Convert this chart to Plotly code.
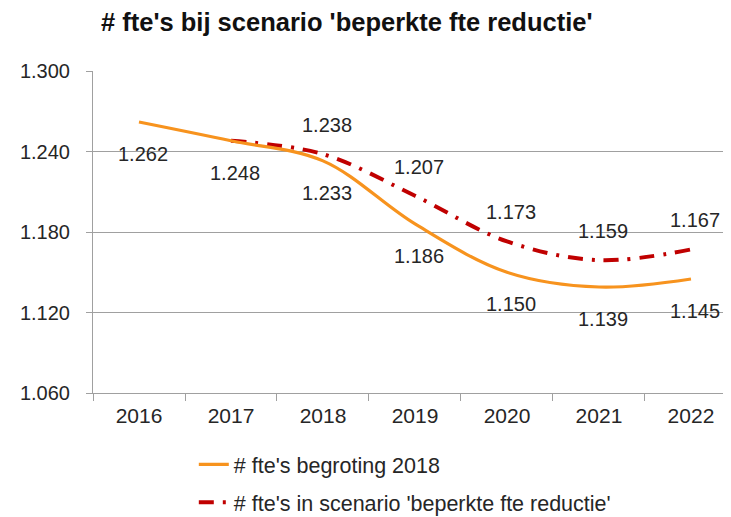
import plotly.graph_objects as go

years = ["2016", "2017", "2018", "2019", "2020", "2021", "2022"]
begroting = [1262, 1248, 1233, 1186, 1150, 1139, 1145]
scenario_years = ["2017", "2018", "2019", "2020", "2021", "2022"]
scenario = [1248, 1238, 1207, 1173, 1159, 1167]
label_years_scenario = ["2018", "2019", "2020", "2021", "2022"]
label_scenario = [1238, 1207, 1173, 1159, 1167]
y_ticks = [1060, 1120, 1180, 1240, 1300]

name_a = "# fte's begroting 2018"
name_b = "# fte's in scenario 'beperkte fte reductie'"
title = "# fte's bij scenario 'beperkte fte reductie'"

ORANGE = "#F7931E"
RED = "#C00000"
FONT = "Liberation Sans, Arial, sans-serif"
TXT = "#262626"

W, H = 723, 509  # page adds an 8px body margin


def nl(v):
    return f"{v:,}".replace(",", ".")


fig = go.Figure()
fig.add_trace(go.Scatter(
    x=scenario_years, y=scenario, name=name_b, mode="lines",
    line=dict(color=RED, width=4, dash="15px,9px,3px,9px", shape="spline", smoothing=1),
    legendrank=2, legendgroup="b", hoverinfo="skip"))
fig.add_trace(go.Scatter(
    x=years, y=begroting, name=name_a, mode="lines",
    line=dict(color=ORANGE, width=3.2, shape="spline", smoothing=1),
    legendrank=1, legendgroup="a", hoverinfo="skip"))

for x, v in zip(years, begroting):
    fig.add_annotation(x=years.index(x), y=v, text=nl(v), showarrow=False,
                       xshift=4, yshift=-32,
                       font=dict(family=FONT, size=20, color=TXT))
for x, v in zip(label_years_scenario, label_scenario):
    fig.add_annotation(x=years.index(x), y=v, text=nl(v), showarrow=False,
                       xshift=4, yshift=29,
                       font=dict(family=FONT, size=20, color=TXT))

fig.update_layout(
    width=W, height=H,
    margin=dict(l=85, r=0, t=63, b=124, autoexpand=False),
    paper_bgcolor="white", plot_bgcolor="white",
    separators=",.",
    font=dict(family=FONT, size=20, color=TXT),
    title=dict(text="<b>" + title + "</b>", xref="container", yref="container",
               x=93 / W, xanchor="left", y=1 - 14 / H, yanchor="middle",
               font=dict(family=FONT, size=25.5, color="#111111")),
    showlegend=True,
    legend=dict(orientation="v", x=0.158, xanchor="left", y=-0.158, yanchor="top",
                traceorder="grouped", tracegroupgap=7,
                font=dict(family=FONT, size=21.5, color=TXT), bgcolor="rgba(0,0,0,0)"),
    xaxis=dict(type="category", categoryorder="array", categoryarray=years,
               range=[-0.5, 6.435], showgrid=False, automargin=False,
               showline=True, linecolor="#A0A0A0", linewidth=1,
               ticks="outside", tickson="boundaries", ticklen=7, tickcolor="#A0A0A0",
               tickfont=dict(family=FONT, size=21, color=TXT), ticklabelstandoff=4,
               fixedrange=True),
    yaxis=dict(range=[1060, 1300], tickvals=y_ticks, tickformat=",d", automargin=False,
               showgrid=True, gridcolor="#A0A0A0", gridwidth=1,
               showline=True, linecolor="#A0A0A0", linewidth=1,
               ticks="outside", ticklen=6, tickcolor="#A0A0A0",
               tickfont=dict(family=FONT, size=20, color=TXT), ticklabelstandoff=12,
               zeroline=False, fixedrange=True),
)

fig.write_html("out.html")
